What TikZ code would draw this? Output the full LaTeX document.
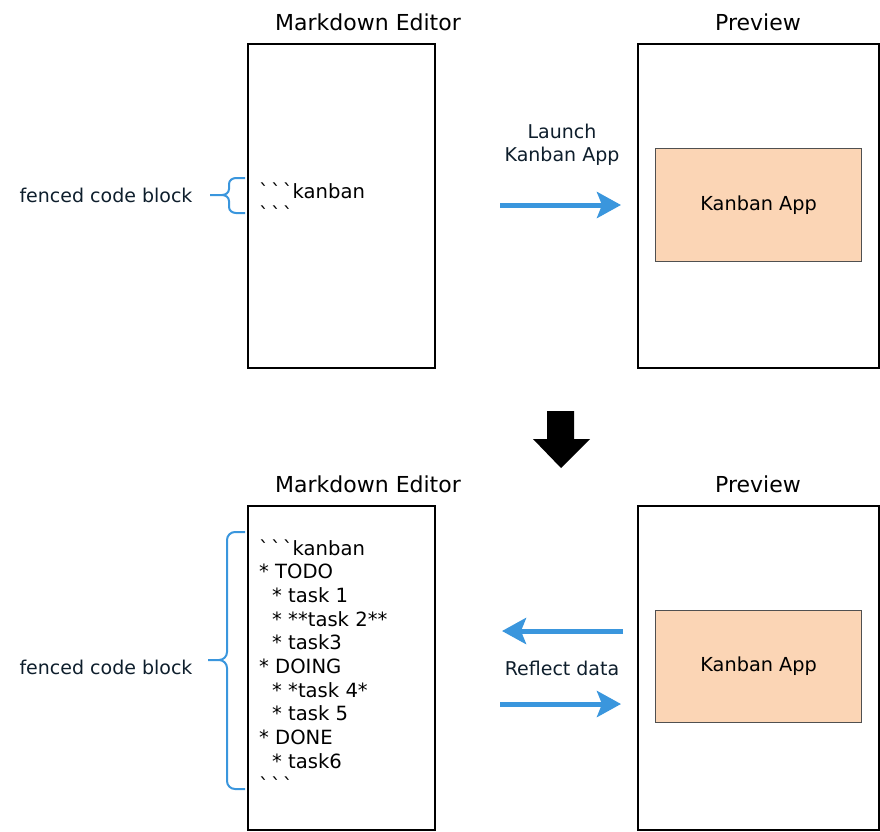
\documentclass[tikz,border=0pt]{standalone}
\usepackage{fontspec}
\setmainfont{DejaVu Sans}
\usetikzlibrary{arrows.meta}
\definecolor{arrblue}{HTML}{3A96DD}
\definecolor{peach}{HTML}{FBD5B5}
\definecolor{boxgray}{HTML}{505050}
\definecolor{labtxt}{HTML}{0E1E2C}
\newcommand{\fence}{ˋ\hspace{2pt}ˋ\hspace{2pt}ˋ}
\begin{document}
\begin{tikzpicture}[x=1pt,y=-1pt,
  panel/.style={draw=black,line width=2.2pt,inner sep=0pt,anchor=north west},
  title/.style={font=\fontsize{22}{26}\selectfont,text=black},
  label/.style={font=\fontsize{19}{24}\selectfont,text=labtxt,align=center},
  appbox/.style={draw=boxgray,line width=1.3pt,fill=peach,inner sep=0pt,anchor=north west},
  apptext/.style={font=\fontsize{19.3}{24}\selectfont},
  code/.style={font=\fontsize{19.6}{24}\selectfont,anchor=base west,inner sep=0pt},
  bluearrow/.style={draw=arrblue,line width=5pt,-{Stealth[length=24pt,width=26pt,inset=5pt]}},
  bracestyle/.style={draw=arrblue,line width=2pt}]
\useasboundingbox (0,0) rectangle (880,831);

% top row
\node[title] (t1) at (368,22) {Markdown Editor};
\node[title] (t2) at (758,22) {Preview};
\node[panel,minimum width=187pt,minimum height=324pt] (ed1) at (247,43) {};
\node[panel,minimum width=241pt,minimum height=324pt] (pv1) at (637,43) {};
\node[appbox,minimum width=206pt,minimum height=113pt] (app1) at (655,148) {};
\node[apptext] (app1t) at (app1.center) {Kanban App};
\node[code] (c1a) at (259,198) {\fence kanban};
\node[code] (c1b) at (259,221.7) {\fence};
\node[label] (lab1) at (106,195) {fenced code block};
\node[label] (lau) at (562,145) {Launch\\[-1pt]Kanban App};
\coordinate (a1s) at (500,205);
\coordinate (a1e) at (621,205);
\draw[bluearrow] (a1s) -- (a1e);
\draw[bracestyle] (245,178) -- (236,178) to[out=180,in=90] (229,184) -- (229,189)
  to[out=270,in=0] (222,195) -- (210,195);
\draw[bracestyle] (245,213) -- (236,213) to[out=180,in=270] (229,207) -- (229,201)
  to[out=90,in=0] (222,195);

% down arrow
\fill[black] (547,411) -- (574,411) -- (574,439) -- (590,439) -- (561,468) -- (533,439) -- (547,439) -- cycle;

% bottom row
\node[title] (t3) at (368,484) {Markdown Editor};
\node[title] (t4) at (758,484) {Preview};
\node[panel,minimum width=187pt,minimum height=324pt] (ed2) at (247,505) {};
\node[panel,minimum width=241pt,minimum height=324pt] (pv2) at (637,505) {};
\node[appbox,minimum width=206pt,minimum height=112pt] (app2) at (655,610) {};
\node[apptext] (app2t) at (app2.center) {Kanban App};
\node[code] (l1) at (259,555.0) {\fence kanban};
\node[code] (l2) at (259,578.7) {* TODO};
\node[code] (l3) at (272,602.4) {* task 1};
\node[code] (l4) at (272,626.1) {* **task 2**};
\node[code] (l5) at (272,649.8) {* task3};
\node[code] (l6) at (259,673.5) {* DOING};
\node[code] (l7) at (272,697.2) {* *task 4*};
\node[code] (l8) at (272,720.9) {* task 5};
\node[code] (l9) at (259,744.6) {* DONE};
\node[code] (l10) at (272,768.3) {* task6};
\node[code] (l11) at (259,792.0) {\fence};
\node[label] (lab2) at (106,667) {fenced code block};
\node[label] (refl) at (562,668) {Reflect data};
\coordinate (a2s) at (623,631);
\coordinate (a2e) at (502,631);
\draw[bluearrow] (a2s) -- (a2e);
\coordinate (a3s) at (500,704);
\coordinate (a3e) at (621,704);
\draw[bluearrow] (a3s) -- (a3e);
\draw[bracestyle] (245,532) -- (235,532) to[out=180,in=90] (227,540) -- (227,652)
  to[out=270,in=0] (219,660) -- (208,660);
\draw[bracestyle] (245,789) -- (235,789) to[out=180,in=270] (227,781) -- (227,668)
  to[out=90,in=0] (219,660);
\end{tikzpicture}
\end{document}
